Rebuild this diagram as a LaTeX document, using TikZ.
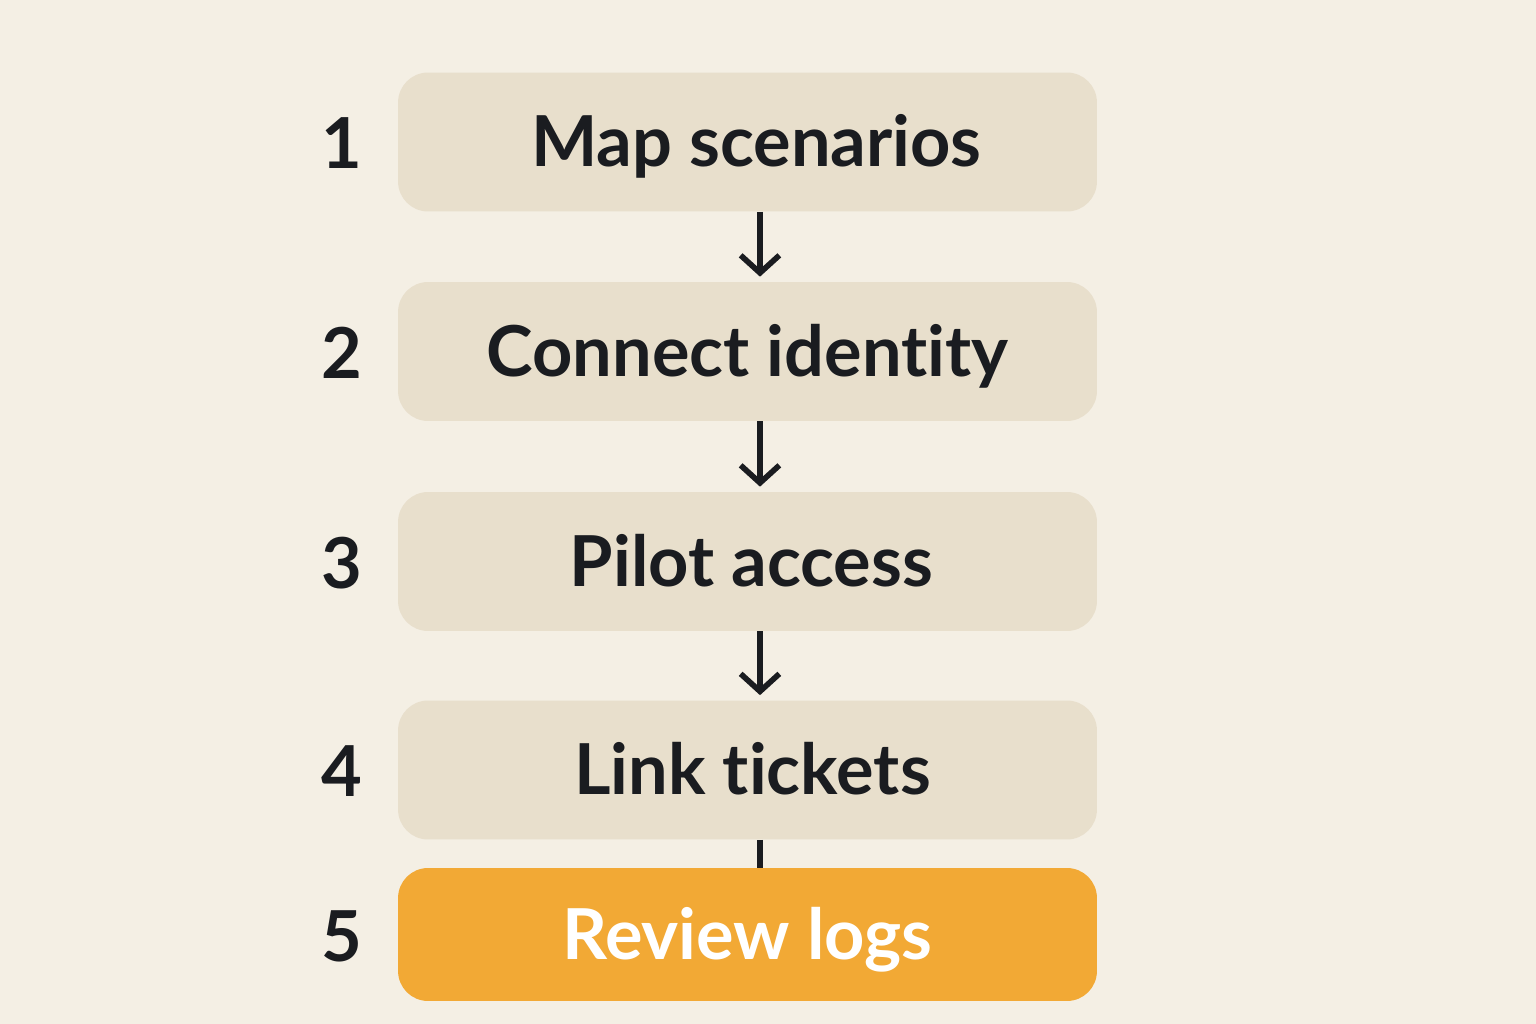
\documentclass[tikz,border=0pt]{standalone}
\usepackage{fontspec}
\setmainfont{Lato}[Ligatures={NoCommon}]
\usetikzlibrary{arrows.meta}
\definecolor{bg}{HTML}{F4EFE4}
\definecolor{boxfill}{HTML}{E8DFCC}
\definecolor{orangefill}{HTML}{F2A935}
\definecolor{ink}{HTML}{1A1C20}
\tikzset{
  bigtext/.style={font=\fontsize{40}{46}\selectfont\bfseries, text height=1.0cm, text depth=0pt},
  stepbox/.style={bigtext, rounded corners=0.6cm, minimum width=13.98cm, minimum height=2.78cm, fill=boxfill, inner sep=0pt, text=ink},
  hotbox/.style={stepbox, fill=orangefill, text=white, minimum height=2.66cm},
  numlabel/.style={bigtext, text=ink, inner sep=0pt},
  conn/.style={draw=ink, line width=3.2pt, -{Straight Barb[length=10pt, width=22pt, line width=3.2pt]}},
  plainconn/.style={draw=ink, line width=3.2pt}
}
\begin{document}
\begin{tikzpicture}[x=0.02cm, y=-0.02cm]
\fill[bg] (0,0) rectangle (1536,1024);
\useasboundingbox (0,0) rectangle (1536,1024);
\node[stepbox] (b1) at (747.5,142) {\hspace{0.36cm}Map scenarios};
\node[stepbox] (b2) at (747.5,351.5) {Connect identity};
\node[stepbox] (b3) at (747.5,561.5) {\hspace{0.15cm}Pilot access};
\node[stepbox] (b4) at (747.5,770) {\hspace{0.2cm}Link tickets};
\node[hotbox] (b5) at (747.5,934.5) {Review logs};
\node[numlabel] (n1) at (342,144) {1};
\node[numlabel] (n2) at (342,353.5) {2};
\node[numlabel] (n3) at (342,563.5) {3};
\node[numlabel] (n4) at (342,772) {4};
\node[numlabel] (n5) at (342,936.5) {5};
\draw[conn] ([xshift=0.25cm]b1.south) -- ([xshift=0.25cm,yshift=0.1cm]b2.north);
\draw[conn] ([xshift=0.25cm]b2.south) -- ([xshift=0.25cm,yshift=0.1cm]b3.north);
\draw[conn] ([xshift=0.25cm]b3.south) -- ([xshift=0.25cm,yshift=0.1cm]b4.north);
\draw[plainconn] ([xshift=0.25cm]b4.south) -- ([xshift=0.25cm]b5.north);
\end{tikzpicture}
\end{document}
